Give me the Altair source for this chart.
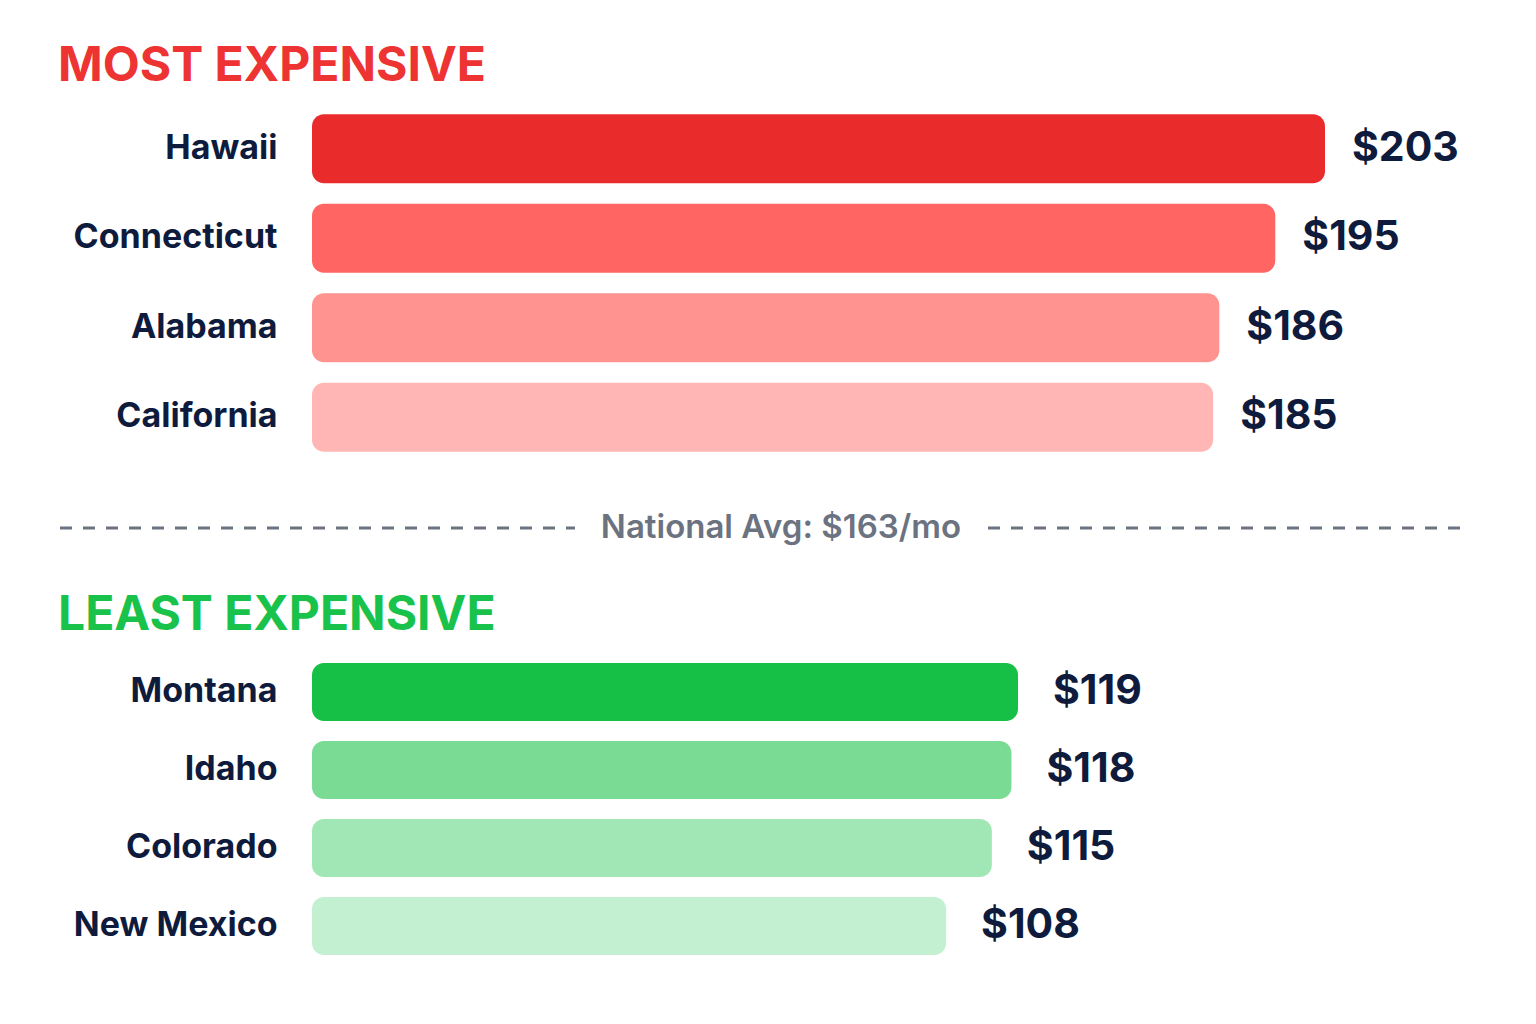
import altair as alt
import pandas as pd

# data
top_states = ["Hawaii", "Connecticut", "Alabama", "California"]
top_costs = [203, 195, 186, 185]
low_states = ["Montana", "Idaho", "Colorado", "New Mexico"]
low_costs = [119, 118, 115, 108]
national_avg = 163

red_palette = ["#E92B2C", "#FF6562", "#FF938F", "#FFB6B4"]
green_palette = ["#16C047", "#7ADC94", "#A1E7B5", "#C3F0D0"]

NAVY = "#0F1B3D"
FONT = "Inter"


def section(states, costs, palette, title, title_color, domain, width, height, pad_inner, dx):
    df = pd.DataFrame({"state": states, "cost": costs})
    base = alt.Chart(df).encode(
        y=alt.Y(
            "state:N",
            sort=states,
            title=None,
            scale=alt.Scale(paddingInner=pad_inner, paddingOuter=pad_inner / 2),
            axis=alt.Axis(
                ticks=False, domain=False, labelFontSize=34, labelFont=FONT,
                labelFontWeight="bold", labelColor=NAVY, labelPadding=35,
                labelLimit=260, minExtent=254, maxExtent=254,
            ),
        ),
    )
    # bars start at the left edge of the scale domain, not at zero
    bars = base.mark_bar(cornerRadius=12).encode(
        x=alt.X("cost:Q", axis=None, scale=alt.Scale(domain=domain, zero=False, nice=False)),
        x2=alt.datum(domain[0]),
        color=alt.Color("state:N", scale=alt.Scale(domain=states, range=palette), legend=None),
    )
    labels = base.mark_text(
        align="left", baseline="middle", dx=dx, fontSize=41,
        fontWeight="bold", font=FONT, color=NAVY,
    ).encode(
        x="cost:Q",
        text=alt.Text("cost:Q", format="$.0f"),
    )
    return (bars + labels).properties(
        width=width,
        height=height,
        title=alt.TitleParams(
            title, anchor="start", frame="bounds", fontSize=48, font=FONT,
            fontWeight="bold", color=title_color, offset=13,
        ),
    )


most = section(top_states, top_costs, red_palette, "MOST EXPENSIVE", "#EE3333",
               [40, 203], 1013, 358, 0.23, 27)
least = section(low_states, low_costs, green_palette, "LEAST EXPENSIVE", "#19C24A",
                [11, 119], 706, 312, 0.256, 35)

# divider row shares the plot origin of the bar panels
avg_df = pd.DataFrame({"avg": [national_avg]})
avg_base = alt.Chart(avg_df)
dash_left = avg_base.mark_rule(strokeDash=[12, 11], strokeWidth=3, color="#6B7280").encode(
    x=alt.value(-252), x2=alt.value(263), y=alt.value(66)
)
dash_right = avg_base.mark_rule(strokeDash=[12, 11], strokeWidth=3, color="#6B7280").encode(
    x=alt.value(676), x2=alt.value(1150), y=alt.value(66)
)
avg_text = avg_base.transform_calculate(
    label="'National Avg: $' + datum.avg + '/mo'"
).mark_text(
    align="center", baseline="middle", fontSize=33, font=FONT,
    fontWeight=600, color="#6B7280",
).encode(x=alt.value(469), y=alt.value(66), text="label:N")
divider = (dash_left + dash_right + avg_text).properties(width=1150, height=130)

chart = alt.vconcat(most, divider, least, spacing=0).resolve_scale(
    x="independent", y="independent", color="independent"
).properties(
    padding={"left": 50, "top": 35, "right": 10, "bottom": 10},
    background="white",
).configure_view(stroke=None)

chart.save("out.html", embed_options={"renderer": "svg", "actions": False})
